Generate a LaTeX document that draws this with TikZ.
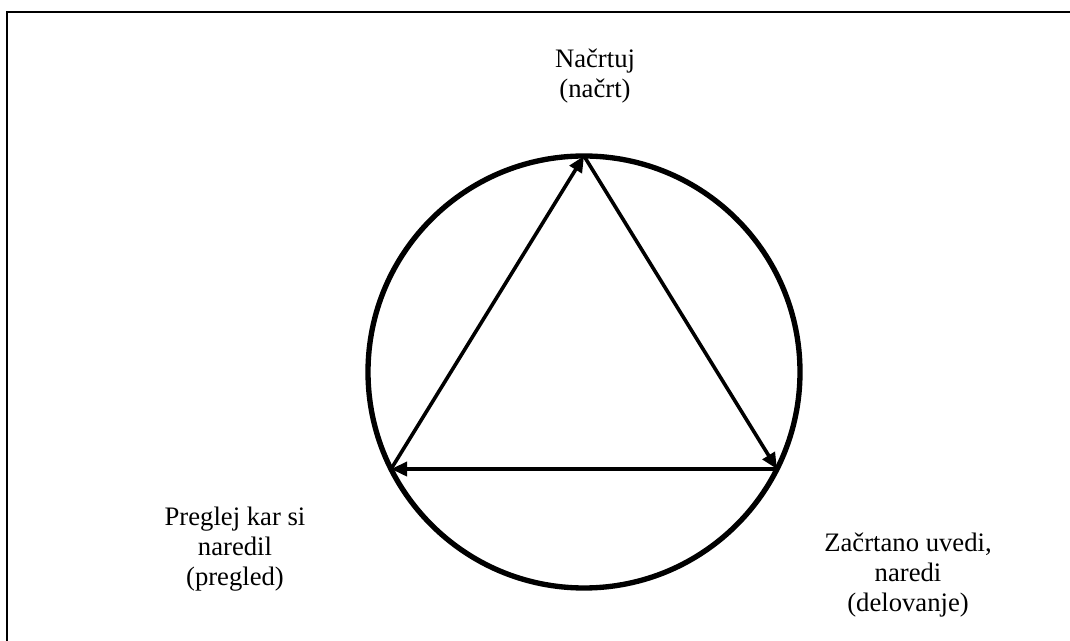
\documentclass[tikz,border=0pt]{standalone}
\usepackage{fontspec}
\setmainfont{Liberation Serif}
\usetikzlibrary{arrows.meta, positioning, calc}
\tikzset{
  frameline/.style={line width=0.9pt},
  ring/.style={line width=4pt},
  cycleedge/.style={line width=2.7pt, -{Triangle[length=12pt, width=10.5pt]}},
  phase/.style={align=center, inner sep=0pt, font=\fontsize{20}{22.5}\selectfont},
}
\begin{document}
\begin{tikzpicture}[x=0.75pt, y=0.75pt]
    \useasboundingbox (0,0) rectangle (1070,641);
    % Frame
    \draw[frameline] (7,-5) -- (7,629) -- (1075,629);
    % Circle
    \coordinate (c) at (584,269);
    \draw[ring] (c) circle[radius=216];
    % Corners of the triangle
    \coordinate (vtop)   at ($(c)+(90:216)$);
    \coordinate (vleft)  at ($(c)+(206.7:216)$);
    \coordinate (vright) at ($(c)+(-26.7:216)$);
    % Phases
    \node[phase] (nacrt)     at (595,565) {Načrtuj\\(načrt)};
    \node[phase] (pregled)   at (235,92)  {Preglej kar si\\naredil\\(pregled)};
    \node[phase] (delovanje) at (908,66)  {Začrtano uvedi,\\naredi\\(delovanje)};
    % Cycle
    \draw[cycleedge] (vleft) -- (vtop);
    \draw[cycleedge] (vtop) -- (vright);
    \draw[cycleedge] (vright) -- (vleft);
\end{tikzpicture}
\end{document}
